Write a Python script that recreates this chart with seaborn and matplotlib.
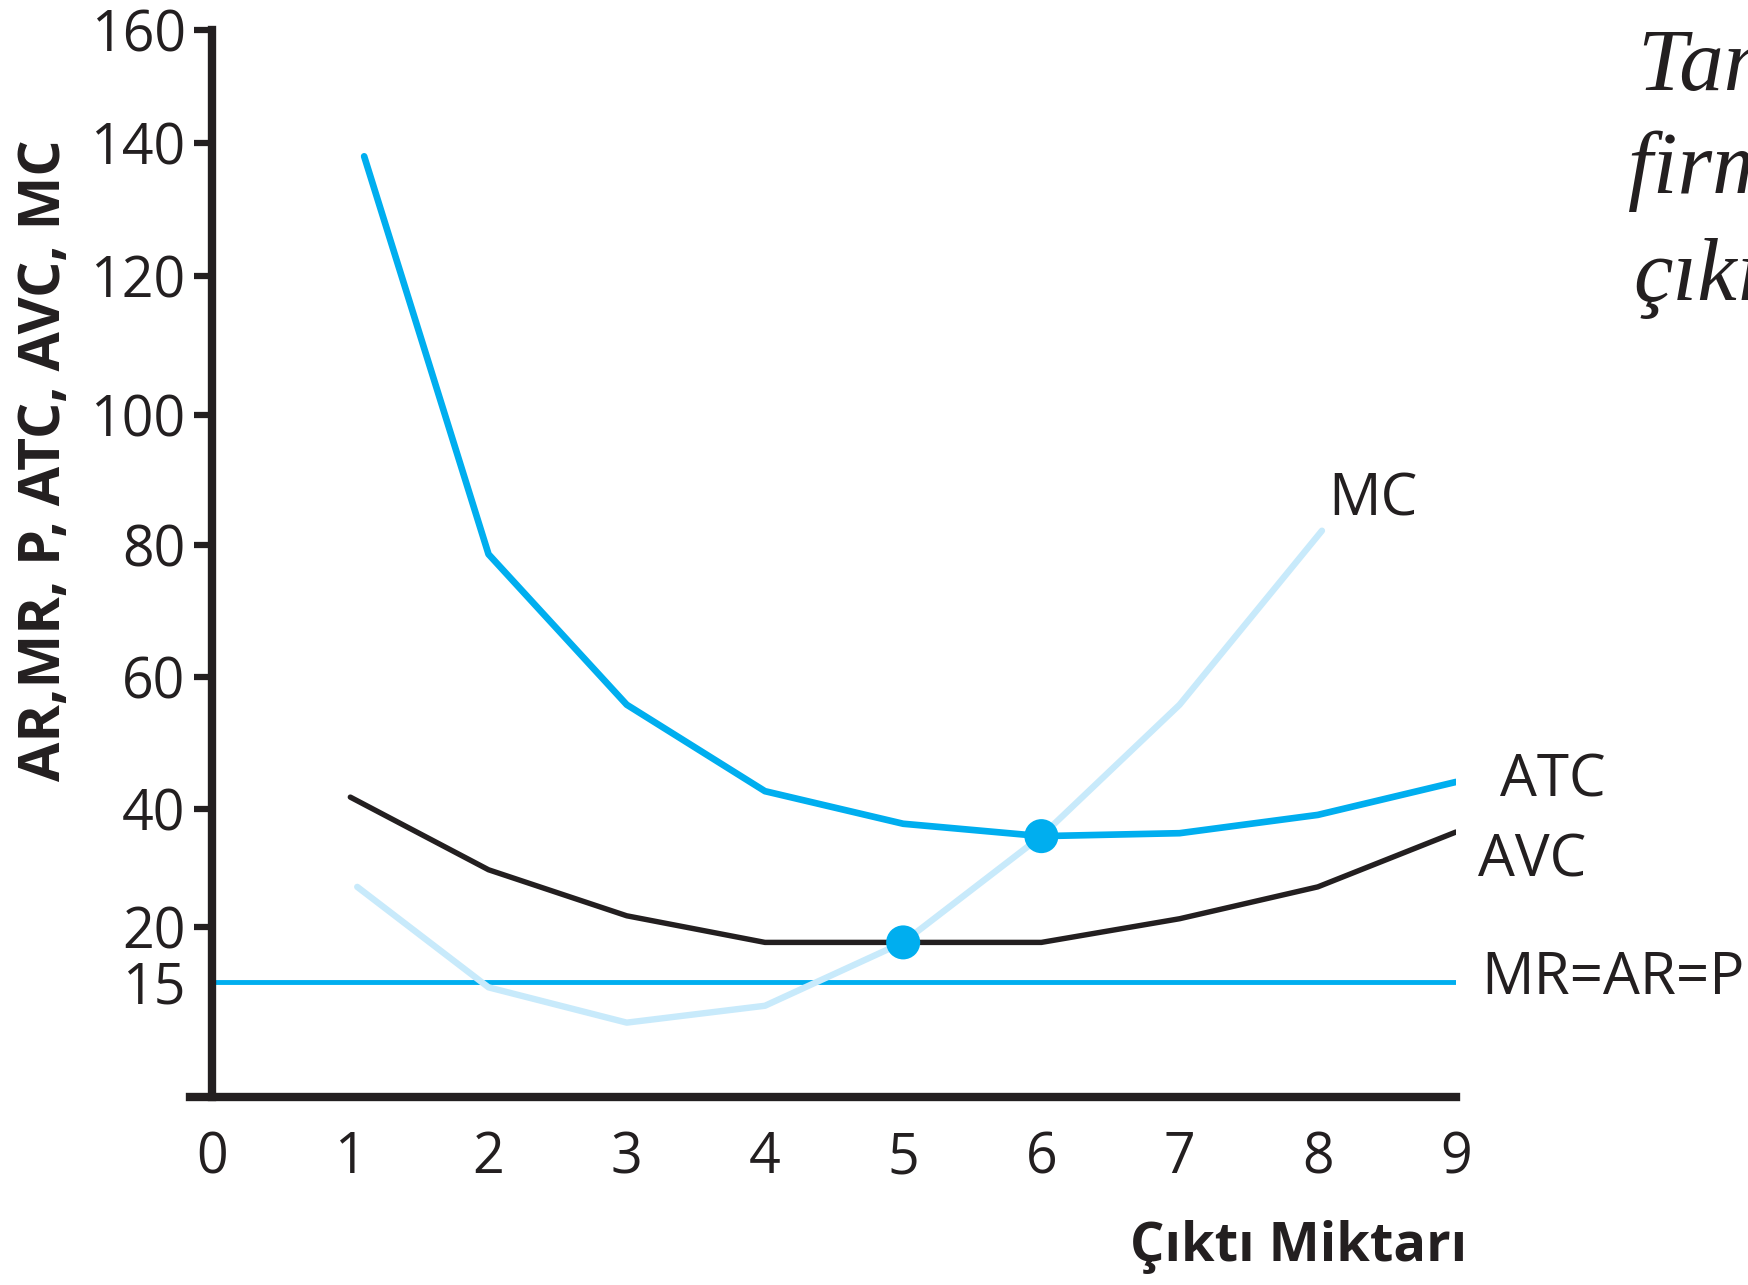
import numpy as np
import matplotlib
matplotlib.use("Agg")
import matplotlib.pyplot as plt
import seaborn as sns

# values
x_atc = [1.1, 2, 3, 4, 5, 6, 7, 8, 9]
atc = [138, 78.6, 55.8, 42.7, 37.5, 35.4, 35.9, 39.0, 44.1]

x_avc = [1, 2, 3, 4, 5, 6, 7, 8, 9]
avc = [41.8, 29.7, 21.9, 18.6, 18.6, 18.6, 21.4, 26.8, 36.1]

x_mc = [1.05, 2, 3, 4, 5, 6, 7, 8.03]
mc = [26.8, 14.3, 9.7, 11.9, 18.6, 35.4, 55.8, 82.2]

x_mr = [0, 9]
mr = [15, 15]

x_dots = [5, 6]
y_dots = [18.6, 35.4]

x_ticks = [0, 1, 2, 3, 4, 5, 6, 7, 8, 9]
y_ticks = [15, 20, 40, 60, 80, 100, 120, 140, 160]

# the printed axis is not evenly spaced: piecewise scale from tick value to drawn height
scale_vals = [0, 15, 20, 40, 60, 80, 100, 120, 140, 160]
scale_pos = [0, 115, 170, 288, 420, 552, 682, 821, 954, 1067]


def fwd(v):
    return np.interp(v, scale_vals, scale_pos)


def inv(p):
    return np.interp(p, scale_pos, scale_vals)


BLUE = "#00AEEF"
LIGHT = "#C8EAFB"
DARK = "#231F20"

sns.set_theme(style="white")
plt.rcParams["font.family"] = ["Open Sans", "DejaVu Sans"]
plt.rcParams["text.color"] = DARK

W, H = 1749, 1285
fig = plt.figure(figsize=(W / 100, H / 100), dpi=100)
ax = fig.add_axes([190 / W, 1 - 1097 / H, 1266 / W, 1067 / H])

sns.lineplot(x=x_mr, y=mr, ax=ax, color=BLUE, linewidth=3.5, zorder=2)
sns.lineplot(x=x_mc, y=mc, ax=ax, color=LIGHT, linewidth=4.6, zorder=2)
sns.lineplot(x=x_avc, y=avc, ax=ax, color=DARK, linewidth=3.9, zorder=3)
sns.lineplot(x=x_atc, y=atc, ax=ax, color=BLUE, linewidth=4.8, zorder=3)
sns.scatterplot(x=x_dots, y=y_dots, ax=ax, color=BLUE, s=600, edgecolor="none", zorder=5)

ax.set_yscale("function", functions=(fwd, inv))
ax.set_xlim(-0.16, 9)
ax.set_ylim(0, 160)

for side in ["top", "right"]:
    ax.spines[side].set_visible(False)
ax.spines["left"].set_position(("data", 0))
for side in ["left", "bottom"]:
    ax.spines[side].set_linewidth(6)
    ax.spines[side].set_color(DARK)

ax.set_xticks(x_ticks)
ax.set_xticklabels([str(t) for t in x_ticks])
ax.set_yticks(y_ticks)
ax.set_yticklabels([str(t) for t in y_ticks])
ax.yaxis.set_minor_locator(matplotlib.ticker.NullLocator())
ax.tick_params(axis="both", which="major", direction="out", length=13, width=4.5,
               color=DARK, labelsize=40, labelcolor=DARK)
ax.tick_params(axis="x", pad=11)
ax.tick_params(axis="y", pad=6, left=True)
ax.yaxis.get_major_ticks()[0].tick1line.set_visible(False)
ax.set_xlabel("")
ax.set_ylabel("")

# axis titles
fig.text(45 / W, 1 - 460 / H, "AR,MR, P, ATC, AVC, MC", rotation=90, fontsize=41,
         fontweight="bold", ha="center", va="center")
fig.text(1467 / W, 1 - 1247 / H, "Çıktı Miktarı", fontsize=39, fontweight="bold",
         ha="right", va="center")

# curve labels
lab = dict(fontsize=42, ha="left", va="center")
fig.text(1328 / W, 1 - 500 / H, "MC", **lab)
fig.text(1500 / W, 1 - 781 / H, "ATC", **lab)
fig.text(1478 / W, 1 - 861 / H, "AVC", **lab)
fig.text(1481 / W, 1 - 979 / H, "MR=AR=P", **lab)

# caption text, cut off at the right edge of the page as in the source
cap = dict(fontsize=64, family="Liberation Serif", style="italic", ha="left", va="baseline")
fig.text(1638 / W, 1 - 90 / H, "Tam rekabet", **cap)
fig.text(1628 / W, 1 - 193 / H, "firmanın", **cap)
fig.text(1633 / W, 1 - 300 / H, "çıkış", **cap)

fig.savefig("out.png", dpi=100)
